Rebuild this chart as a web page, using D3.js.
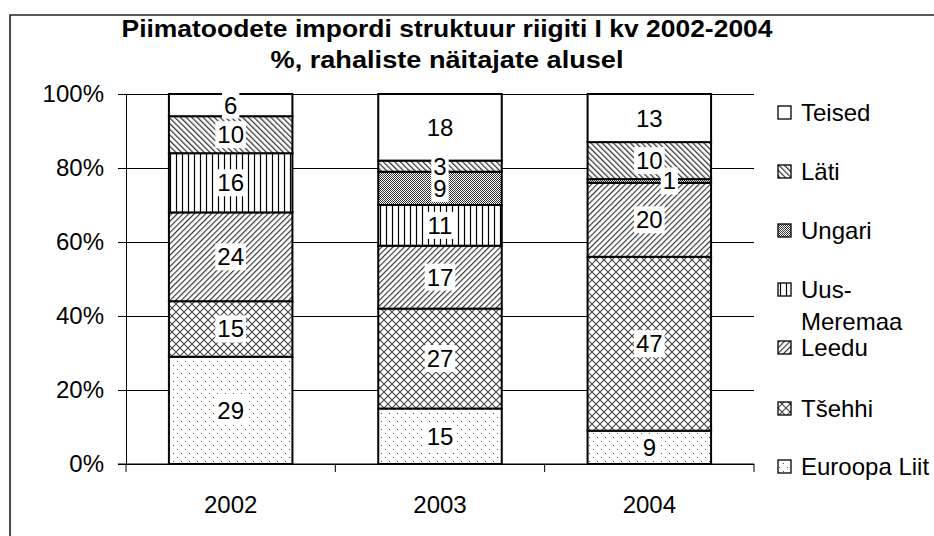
<!DOCTYPE html>
<html>
<head>
<meta charset="utf-8">
<script src="https://cdn.jsdelivr.net/npm/d3@7"></script>
<style>
  html, body { margin: 0; padding: 0; background: #fff; }
  text { font-family: "Liberation Sans", Arial, sans-serif; fill: #000; }
</style>
</head>
<body>
<svg id="chart" width="934" height="536"></svg>
<script>
// data, bottom series first
const years = ["2002", "2003", "2004"]
const seriesNames = ["Euroopa Liit", "Tšehhi", "Leedu", "Uus-Meremaa", "Ungari", "Läti", "Teised"]
const euroopaLiit = [29, 15, 9]
const tsehhi = [15, 27, 47]
const leedu = [24, 17, 20]
const uusMeremaa = [16, 11, 0]
const ungari = [0, 9, 1]
const lati = [10, 3, 10]
const teised = [6, 18, 13]
const yTicks = [0, 20, 40, 60, 80, 100]
const titleLines = ["Piimatoodete impordi struktuur riigiti I kv 2002-2004", "%, rahaliste näitajate alusel"]

const seriesValues = [euroopaLiit, tsehhi, leedu, uusMeremaa, ungari, lati, teised]
const table = years.map((yr, i) => {
  const row = {year: yr}
  seriesNames.forEach((s, j) => row[s] = seriesValues[j][i])
  return row
})

const svg = d3.select("#chart")

// patterns
const defs = svg.append("defs")
const pat = (id, w, h, tr) => {
  const p = defs.append("pattern").attr("id", id)
    .attr("patternUnits", "userSpaceOnUse")
    .attr("width", w).attr("height", h)
  if (tr) p.attr("patternTransform", tr)
  p.append("rect").attr("width", w).attr("height", h).attr("fill", "#fff")
  return p
}

let p = pat("p-eu", 8, 8)
p.append("rect").attr("x", 1).attr("y", 1).attr("width", 1).attr("height", 1).attr("fill", "#555")
p.append("rect").attr("x", 5).attr("y", 5).attr("width", 1).attr("height", 1).attr("fill", "#555")

p = pat("p-cz", 8, 8)
p.append("path").attr("d", "M0,0 L8,8 M8,0 L0,8").attr("stroke", "#444").attr("stroke-width", 1.1)

p = pat("p-lt", 4, 4, "rotate(45)")
p.append("line").attr("x1", 0.5).attr("x2", 0.5).attr("y1", 0).attr("y2", 4).attr("stroke", "#333").attr("stroke-width", 1.3)

p = pat("p-nz", 6, 6)
p.append("line").attr("x1", 2.5).attr("x2", 2.5).attr("y1", 0).attr("y2", 6).attr("stroke", "#000").attr("stroke-width", 1.2)

p = pat("p-hu", 2, 2)
p.append("rect").attr("width", 1).attr("height", 1).attr("fill", "#333")
p.append("rect").attr("x", 1).attr("y", 1).attr("width", 1).attr("height", 1).attr("fill", "#333")

p = pat("p-lv", 4, 4, "rotate(-45)")
p.append("line").attr("x1", 0.5).attr("x2", 0.5).attr("y1", 0).attr("y2", 4).attr("stroke", "#333").attr("stroke-width", 1.5)

const fills = ["url(#p-eu)", "url(#p-cz)", "url(#p-lt)", "url(#p-nz)", "url(#p-hu)", "url(#p-lv)", "#fff"]
const color = d3.scaleOrdinal().domain(seriesNames).range(fills)

// outer frame
svg.append("path")
  .attr("d", "M10,545 V15 H945")
  .attr("fill", "none").attr("stroke", "#222").attr("stroke-width", 1.6)

// title
titleLines.forEach((t, i) => {
  svg.append("text")
    .attr("x", 447).attr("y", i == 0 ? 37 : 68)
    .attr("text-anchor", "middle")
    .attr("textLength", i == 0 ? 651 : 353)
    .attr("lengthAdjust", "spacingAndGlyphs")
    .style("font-family", "'Liberation Sans Narrow', 'Liberation Sans', Arial, sans-serif")
    .style("font-weight", "bold").style("font-size", "23px")
    .text(t)
})

const x = d3.scaleBand().domain(years).range([126, 754]).paddingInner(0.41).paddingOuter(0.205)
const y = d3.scaleLinear().domain([0, 100]).range([464, 94])

// gridlines
svg.append("g")
  .attr("transform", "translate(126,0)")
  .call(d3.axisLeft(y).tickValues(yTicks).tickSize(-628).tickFormat(""))
  .call(g => g.select(".domain").remove())
  .call(g => g.selectAll("line").attr("stroke", "#000"))

// bars
const stacked = d3.stack().keys(seriesNames)(table)
const layers = svg.append("g").selectAll("g").data(stacked).join("g")
  .attr("fill", d => color(d.key))

layers.selectAll("rect").data(d => d).join("rect")
  .attr("x", d => x(d.data.year))
  .attr("width", x.bandwidth())
  .attr("y", d => y(d[1]))
  .attr("height", d => y(d[0]) - y(d[1]))
  .attr("stroke", "#000").attr("stroke-width", 2)

// axes
svg.append("g")
  .attr("transform", "translate(126,0)")
  .call(d3.axisLeft(y).tickValues(yTicks).tickSize(8).tickPadding(14).tickFormat(d => d + "%"))
  .call(g => g.selectAll("line,path").attr("stroke", "#000"))
  .call(g => g.selectAll("text").style("font-size", "24px").attr("font-family", null))

const xAxis = svg.append("g").attr("transform", "translate(0,464)")
xAxis.append("line").attr("x1", 118).attr("x2", 754).attr("stroke", "#000")
xAxis.selectAll(".bound").data(d3.range(years.length + 1)).join("line")
  .attr("class", "bound")
  .attr("x1", i => 126 + i * x.step()).attr("x2", i => 126 + i * x.step())
  .attr("y1", 0).attr("y2", 8).attr("stroke", "#000")
xAxis.selectAll(".yl").data(years).join("text")
  .attr("class", "yl")
  .attr("x", d => x(d) + x.bandwidth() / 2).attr("y", 49)
  .attr("text-anchor", "middle").style("font-size", "24px")
  .text(d => d)

// data labels with white boxes
const labG = svg.append("g")
stacked.forEach(layer => {
  layer.forEach(d => {
    const v = d[1] - d[0]
    if (v <= 0) return
    let cx = x(d.data.year) + x.bandwidth() / 2
    if (v < 2) cx += 20
    const cy = y((d[0] + d[1]) / 2)
    const g = labG.append("g")
    const r = g.append("rect").attr("fill", "#fff")
    const t = g.append("text").attr("x", cx).attr("y", cy)
      .attr("text-anchor", "middle").attr("dominant-baseline", "central")
      .style("font-size", "24px").text(v)
    const b = t.node().getBBox()
    r.attr("x", b.x - 2).attr("y", b.y).attr("width", b.width + 4).attr("height", b.height)
  })
})

// legend, top entry first
const legendY = {"Teised": 112, "Läti": 171, "Ungari": 230, "Uus-Meremaa": 289, "Leedu": 347, "Tšehhi": 408, "Euroopa Liit": 466}
const leg = svg.append("g").selectAll("g").data(seriesNames.slice().reverse()).join("g")
  .attr("transform", d => `translate(778,${legendY[d]})`)
leg.append("rect").attr("x", 0).attr("y", -6).attr("width", 13).attr("height", 13)
  .attr("fill", d => color(d)).attr("stroke", "#000").attr("stroke-width", 1.3)
leg.append("text").attr("x", 23).attr("dominant-baseline", "central")
  .style("font-size", "24px")
  .each(function (d) {
    const parts = d == "Uus-Meremaa" ? ["Uus-", "Meremaa"] : [d]
    d3.select(this).selectAll("tspan").data(parts).join("tspan")
      .attr("x", 23).attr("dy", (s, i) => i ? 32 : 0).text(s => s)
  })
</script>
</body>
</html>
